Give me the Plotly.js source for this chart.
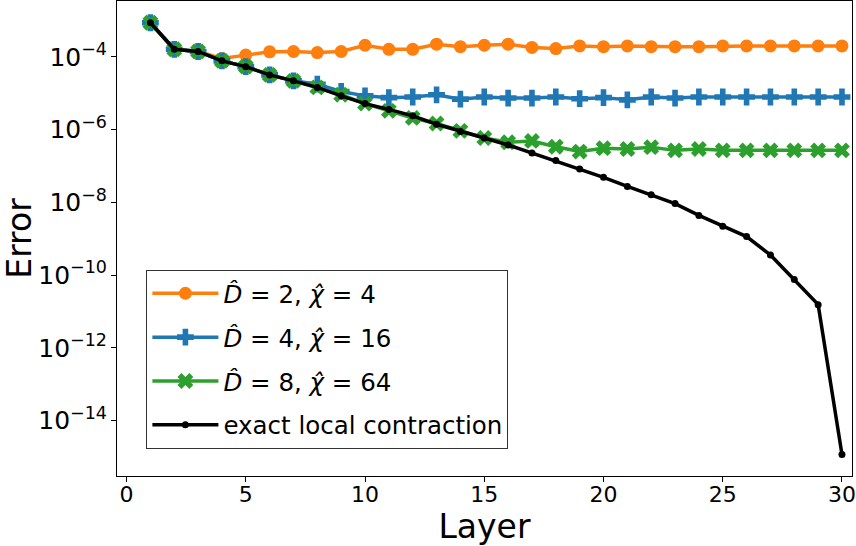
<!DOCTYPE html>
<html>
<head>
<meta charset="utf-8">
<script src="https://cdn.plot.ly/plotly-3.0.1.min.js"></script>
<style>html,body{margin:0;padding:0;background:#fff;}#chart{width:856px;height:546px;}</style>
</head>
<body>
<div id="chart"></div>
<script>
const layers = [1,2,3,4,5,6,7,8,9,10,11,12,13,14,15,16,17,18,19,20,21,22,23,24,25,26,27,28,29,30];

const errD2 = [8.7e-4,1.62e-4,1.41e-4,9.1e-5,1.12e-4,1.38e-4,1.41e-4,1.32e-4,1.41e-4,2.09e-4,
               1.62e-4,1.62e-4,2.24e-4,1.91e-4,2.09e-4,2.24e-4,1.82e-4,1.70e-4,2.0e-4,1.91e-4,
               2.0e-4,1.91e-4,1.91e-4,1.91e-4,2.0e-4,2.0e-4,2.0e-4,2.0e-4,2.0e-4,2.0e-4];

const errD4 = [8.7e-4,1.62e-4,1.41e-4,7.8e-5,5.4e-5,3.2e-5,2.2e-5,1.78e-5,1.12e-5,8.5e-6,
               7.6e-6,7.9e-6,9.1e-6,6.9e-6,7.9e-6,7.4e-6,7.4e-6,7.9e-6,7.1e-6,7.6e-6,
               6.6e-6,7.9e-6,7.4e-6,7.9e-6,7.9e-6,7.9e-6,7.9e-6,7.9e-6,7.9e-6,7.9e-6];

const errD8 = [8.7e-4,1.62e-4,1.41e-4,7.8e-5,5.4e-5,3.2e-5,2.2e-5,1.45e-5,9.1e-6,5.2e-6,
               3.3e-6,2.1e-6,1.48e-6,9.3e-7,5.9e-7,4.5e-7,4.9e-7,3.4e-7,2.5e-7,3.1e-7,
               2.95e-7,3.3e-7,2.7e-7,2.95e-7,2.7e-7,2.7e-7,2.7e-7,2.7e-7,2.7e-7,2.7e-7];

const errExact = [8.7e-4,1.62e-4,1.41e-4,7.8e-5,5.4e-5,3.2e-5,2.2e-5,1.45e-5,8.5e-6,5.2e-6,
                  3.6e-6,2.4e-6,1.41e-6,8.9e-7,5.9e-7,3.8e-7,2.3e-7,1.41e-7,8.3e-8,4.9e-8,
                  2.75e-8,1.62e-8,9.3e-9,4.4e-9,2.2e-9,1.15e-9,3.6e-10,7.6e-11,1.55e-11,1.17e-15];

const names = [
  "<i>D\u0302</i> = 2, <i>\u03C7\u0302</i> = 4",
  "<i>D\u0302</i> = 4, <i>\u03C7\u0302</i> = 16",
  "<i>D\u0302</i> = 8, <i>\u03C7\u0302</i> = 64",
  "exact local contraction"
];
const xTicks = [0,5,10,15,20,25,30];

const font = "DejaVu Sans, sans-serif";

const traces = [
  {x: layers, y: errD2, name: names[0], legendgroup: "a", mode: "lines+markers",
   line: {color: "#ff7f0e", width: 3.5}, marker: {symbol: "circle", size: 13, color: "#ff7f0e"}},
  {x: layers, y: errD4, name: names[1], legendgroup: "b", mode: "lines+markers",
   line: {color: "#1f77b4", width: 3.5}, marker: {symbol: "cross", size: 14, color: "#1f77b4"}},
  {x: layers, y: errD8, name: names[2], legendgroup: "c", mode: "lines+markers",
   line: {color: "#2ca02c", width: 3.5}, marker: {symbol: "x", size: 14, color: "#2ca02c"}},
  {x: layers, y: errExact, name: names[3], legendgroup: "d", mode: "lines+markers",
   line: {color: "#000000", width: 3.5}, marker: {symbol: "circle", size: 7, color: "#000000"}}
];

const layout = {
  width: 856, height: 546,
  margin: {l: 117, r: 4, t: 1, b: 70},
  paper_bgcolor: "#fff", plot_bgcolor: "#fff",
  font: {family: font, color: "#000", size: 22},
  showlegend: true,
  legend: {
    x: 0.04, y: 0.434, xanchor: "left", yanchor: "top",
    bgcolor: "rgba(255,255,255,0.8)", bordercolor: "#333", borderwidth: 1,
    font: {family: font, size: 24.5, color: "#000"},
    tracegroupgap: 9, itemwidth: 66
  },
  xaxis: {
    range: [-0.4, 30.42], tickvals: xTicks, ticktext: xTicks.map(String),
    showgrid: false, zeroline: false,
    showline: true, linecolor: "#000", linewidth: 1, mirror: true,
    ticks: "outside", ticklen: 5, tickwidth: 1, tickcolor: "#000",
    ticklabelstandoff: -6,
    tickfont: {family: font, size: 22},
    title: {text: "Layer", font: {family: font, size: 33}, standoff: 4}
  },
  yaxis: {
    type: "log", range: [-15.52, -2.463], tick0: 0, dtick: 2,
    exponentformat: "power",
    showgrid: false, zeroline: false,
    showline: true, linecolor: "#000", linewidth: 1, mirror: true,
    ticks: "outside", ticklen: 5, tickwidth: 1, tickcolor: "#000",
    tickfont: {family: font, size: 20},
    title: {text: "Error", font: {family: font, size: 33}, standoff: 12}
  }
};

Plotly.newPlot("chart", traces, layout, {displayModeBar: false, staticPlot: true});
</script>
</body>
</html>
